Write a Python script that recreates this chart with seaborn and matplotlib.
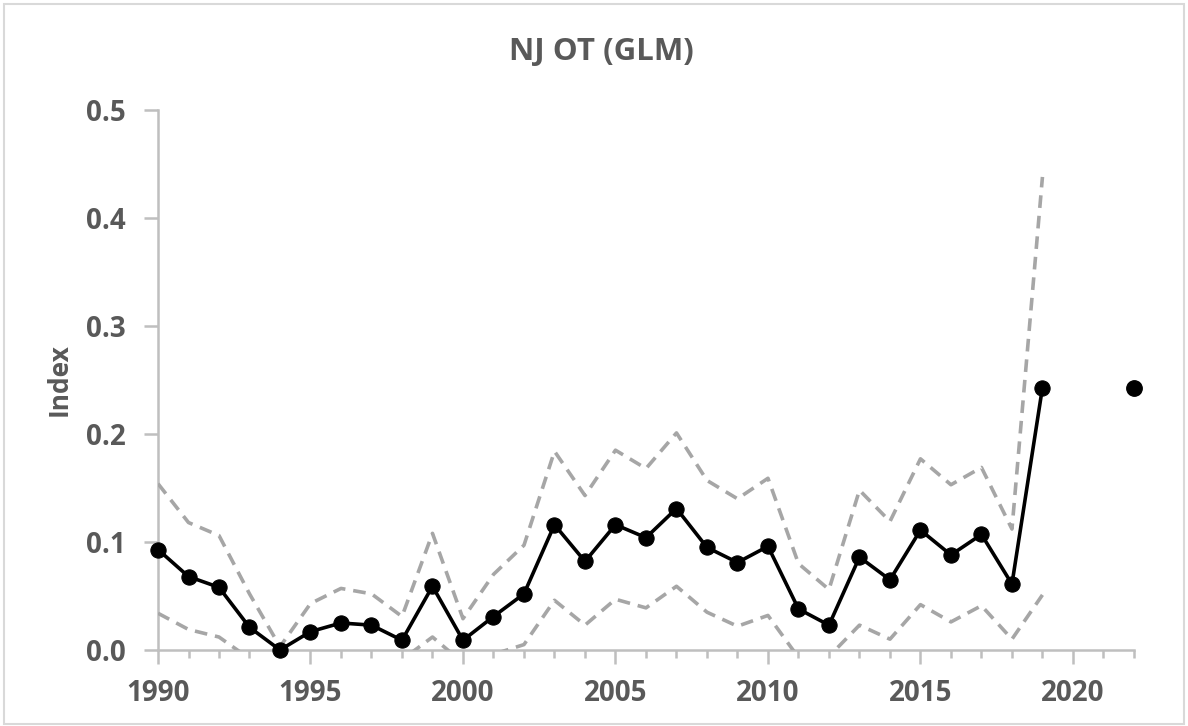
import matplotlib
matplotlib.use("Agg")
import matplotlib.pyplot as plt
from matplotlib.ticker import MultipleLocator, FormatStrFormatter
from matplotlib.patches import Rectangle
import pandas as pd
import seaborn as sns

# values
years = [1990, 1991, 1992, 1993, 1994, 1995, 1996, 1997, 1998, 1999,
         2000, 2001, 2002, 2003, 2004, 2005, 2006, 2007, 2008, 2009,
         2010, 2011, 2012, 2013, 2014, 2015, 2016, 2017, 2018, 2019]
index_vals = [0.093, 0.068, 0.058, 0.021, 0.000, 0.017, 0.025, 0.023, 0.009, 0.059,
              0.009, 0.031, 0.052, 0.116, 0.082, 0.116, 0.104, 0.131, 0.095, 0.081,
              0.096, 0.038, 0.023, 0.086, 0.065, 0.111, 0.088, 0.107, 0.061, 0.243]
upper_ci = [0.154, 0.118, 0.106, 0.052, 0.003, 0.043, 0.057, 0.052, 0.031, 0.108,
            0.029, 0.070, 0.097, 0.184, 0.143, 0.185, 0.168, 0.201, 0.157, 0.140,
            0.159, 0.080, 0.056, 0.148, 0.119, 0.177, 0.153, 0.169, 0.112, 0.438]
lower_ci = [0.034, 0.019, 0.012, -0.008, 0.000, -0.005, -0.004, -0.005, -0.009, 0.012,
            -0.012, -0.004, 0.005, 0.046, 0.023, 0.047, 0.039, 0.059, 0.035, 0.022,
            0.032, -0.007, -0.006, 0.023, 0.010, 0.042, 0.026, 0.041, 0.010, 0.051]
extra_year = [2022]
extra_index = [0.243]

df = pd.DataFrame({"year": years, "index": index_vals, "upper": upper_ci, "lower": lower_ci})
df_extra = pd.DataFrame({"year": extra_year, "index": extra_index})

sns.set_style("white")
plt.rcParams["font.family"] = ["Open Sans", "DejaVu Sans"]

text_col = "#595959"
axis_col = "#BFBFBF"
ci_col = "#A6A6A6"

fig = plt.figure(figsize=(11.88, 7.26), dpi=100)
ax = fig.add_axes([0.133, 0.1047, 0.8215, 0.7438])

# confidence bounds (dashed grey)
for col in ["upper", "lower"]:
    sns.lineplot(data=df, x="year", y=col, ax=ax, color=ci_col, linewidth=2.6,
                 linestyle=(0, (3.5, 2.2)))
# index series
sns.lineplot(data=df, x="year", y="index", ax=ax, color="black", linewidth=2.6,
             marker="o", markersize=11, markeredgecolor="black", zorder=5, clip_on=False)
sns.scatterplot(data=df_extra, x="year", y="index", ax=ax, color="black", s=125,
                edgecolor="black", zorder=5, clip_on=False)

ax.set_xlim(1990, 2022)
ax.set_ylim(0, 0.5)
ax.xaxis.set_major_locator(MultipleLocator(5))
ax.xaxis.set_minor_locator(MultipleLocator(1))
ax.yaxis.set_major_locator(MultipleLocator(0.1))
ax.yaxis.set_major_formatter(FormatStrFormatter("%.1f"))

sns.despine(ax=ax)
for side in ["left", "bottom"]:
    ax.spines[side].set_color(axis_col)
    ax.spines[side].set_linewidth(1.8)
    ax.spines[side].set_zorder(1)

ax.tick_params(axis="x", which="major", length=10, width=1.8, color=axis_col,
               labelsize=20, labelcolor=text_col, pad=11, direction="out", bottom=True)
ax.tick_params(axis="x", which="minor", length=6, width=1.8, color=axis_col,
               direction="out", bottom=True)
ax.tick_params(axis="y", which="major", length=10, width=1.8, color=axis_col,
               labelsize=20, labelcolor=text_col, pad=13, direction="out", left=True)
for lbl in ax.get_xticklabels() + ax.get_yticklabels():
    lbl.set_fontweight("bold")

ax.set_xlabel("")
ax.set_ylabel("Index", fontsize=19, fontweight="bold", color=text_col, labelpad=10)
fig.text(0.506, 0.928, "NJ OT (GLM)", ha="center", va="center", fontsize=22.5,
         fontweight="bold", color=text_col)

fig.patches.append(Rectangle((0.003, 0.003), 0.994, 0.992, transform=fig.transFigure,
                             fill=False, edgecolor="#D9D9D9", linewidth=1.5))

fig.savefig("out.png", dpi=100)
